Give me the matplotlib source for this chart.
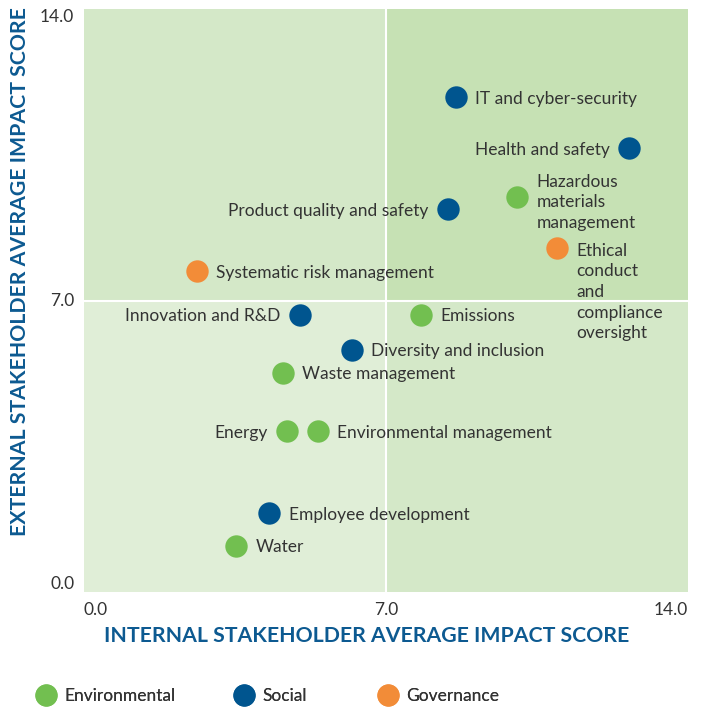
import matplotlib.pyplot as plt
from matplotlib.lines import Line2D

plt.rcParams['font.family'] = ['Lato', 'DejaVu Sans']

# data
labels = ['IT and cyber-security', 'Health and safety', 'Hazardous\nmaterials\nmanagement',
          'Product quality and safety', 'Ethical\nconduct\nand\ncompliance\noversight',
          'Systematic risk management', 'Innovation and R&D', 'Emissions',
          'Diversity and inclusion', 'Waste management', 'Energy',
          'Environmental management', 'Employee development', 'Water']
internal = [8.62, 12.63, 10.04, 8.44, 10.96, 2.62, 5.01, 7.81, 6.21, 4.61, 4.71, 5.42, 4.29, 3.52]
external = [11.88, 10.66, 9.48, 9.19, 8.25, 7.70, 6.66, 6.66, 5.82, 5.27, 3.87, 3.87, 1.90, 1.11]
group = ['Social', 'Social', 'Environmental', 'Social', 'Governance', 'Governance', 'Social',
         'Environmental', 'Social', 'Environmental', 'Environmental', 'Environmental',
         'Social', 'Environmental']
side = ['r', 'l', 'r', 'l', 'r', 'r', 'l', 'r', 'r', 'r', 'l', 'r', 'r', 'r']

colors = {'Environmental': '#72bf50', 'Social': '#00558f', 'Governance': '#f28c38'}
TXT = '#333333'
BLUE = '#0d5a91'
FS = 12.5

fig = plt.figure(figsize=(7.01, 7.08), dpi=100)
ax = fig.add_axes([84 / 701, 116 / 708, 604 / 701, 583 / 708])
ax.set_xlim(0, 14)
ax.set_ylim(0, 14)

# quadrant shading
ax.axvspan(0, 7, ymin=0, ymax=0.5, color='#e0eed7', lw=0)
ax.axvspan(0, 7, ymin=0.5, ymax=1, color='#d4e8c8', lw=0)
ax.axvspan(7, 14, ymin=0, ymax=0.5, color='#d4e8c8', lw=0)
ax.axvspan(7, 14, ymin=0.5, ymax=1, color='#c6e1b4', lw=0)
ax.axvline(7, color='white', lw=1.5)
ax.axhline(7, color='white', lw=1.5)

for x, y, lab, g, s in zip(internal, external, labels, group, side):
    ax.scatter(x, y, s=260, color=colors[g], zorder=3, linewidths=0)
    if s == 'r':
        if lab.startswith('Ethical'):
            ax.annotate(lab, (x, y), xytext=(14, 4), textcoords='offset points',
                        ha='left', va='top', fontsize=FS, color=TXT, linespacing=1.35)
        else:
            ax.annotate(lab, (x, y), xytext=(14, -3.5 if '\n' in lab else -1.2),
                        textcoords='offset points', ha='left', va='center',
                        fontsize=FS, color=TXT, linespacing=1.35)
    else:
        ax.annotate(lab, (x, y), xytext=(-14, -1.2), textcoords='offset points',
                    ha='right', va='center', fontsize=FS, color=TXT)

for sp in ax.spines.values():
    sp.set_visible(False)
ax.set_xticks([0, 7, 14])
ax.set_yticks([0, 7, 14])
ax.set_xticklabels(['0.0', '7.0', '14.0'], fontsize=FS, color=TXT)
ax.set_yticklabels(['0.0', '7.0', '14.0'], fontsize=FS, color=TXT)
ax.tick_params(length=0, pad=7)
for t, h in zip(ax.get_xticklabels(), ['left', 'center', 'right']):
    t.set_ha(h)
for t, v in zip(ax.get_yticklabels(), ['bottom', 'center', 'top']):
    t.set_va(v)

fig.text(367 / 701, 1 - 636 / 708, 'INTERNAL STAKEHOLDER AVERAGE IMPACT SCORE',
         ha='center', va='center', fontsize=15.3, fontweight='bold', color=BLUE)
fig.text(20 / 701, 1 - 272 / 708, 'EXTERNAL STAKEHOLDER AVERAGE IMPACT SCORE',
         ha='center', va='center', rotation=90, fontsize=15.3, fontweight='bold', color=BLUE)

# legend entries placed one by one
legend_x = [27, 225, 369]
for (name, c), lx in zip(colors.items(), legend_x):
    h = Line2D([], [], marker='o', ls='', markersize=16, markerfacecolor=c, markeredgewidth=0)
    leg = fig.legend([h], [name], loc='center left', bbox_to_anchor=(lx / 701, 1 - 696 / 708),
                     frameon=False, fontsize=FS, labelcolor=TXT, handletextpad=0.45,
                     handlelength=1.2, borderpad=0)
    fig.add_artist(leg)

fig.savefig('out.png', dpi=100)
